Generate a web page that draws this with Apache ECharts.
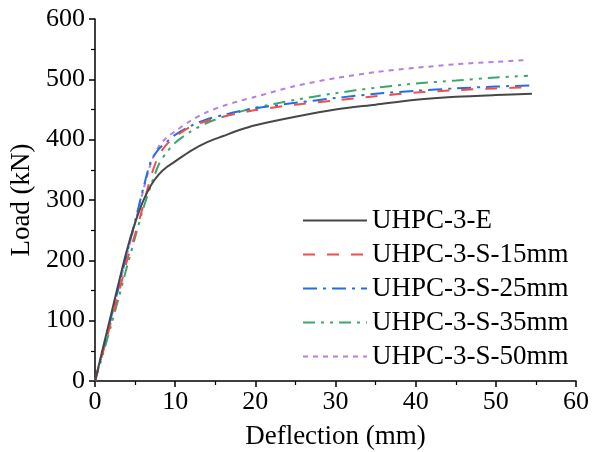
<!DOCTYPE html>
<html>
<head>
<meta charset="utf-8">
<script src="https://cdn.jsdelivr.net/npm/echarts@6/dist/echarts.min.js"></script>
<style>
  html, body { margin: 0; padding: 0; background: #fff; }
  #main { width: 593px; height: 452px; }
</style>
</head>
<body>
<div id="main"></div>
<script>
// 系列名称
const seriesNames = ['UHPC-3-E', 'UHPC-3-S-15mm', 'UHPC-3-S-25mm', 'UHPC-3-S-35mm', 'UHPC-3-S-50mm'];

// 挠度 (mm) / 荷载 (kN)
const deflE   = [0, 1, 2, 3, 4, 5, 6, 7, 8, 9, 10, 12, 14, 16, 18, 20, 25, 30, 35, 40, 45, 50, 54.5];
const loadE   = [0, 55, 110, 165, 218, 262, 298, 325, 343, 355, 364, 382, 396, 406, 416, 424, 438, 450, 458, 466, 471, 474, 476];

const defl15  = [0, 1, 2, 3, 4, 5, 6, 7, 8, 9, 10, 12, 14, 16, 18, 20, 25, 30, 35, 40, 45, 50, 54.5];
const load15  = [0, 48, 98, 148, 200, 243, 290, 340, 375, 393, 405, 422, 431, 438, 444, 449, 458, 465, 472, 478, 482, 485, 487];

const defl25  = [0, 1, 2, 3, 4, 5, 6, 7, 8, 9, 10, 12, 14, 16, 18, 20, 25, 30, 35, 40, 45, 50, 54.5];
const load25  = [0, 52, 105, 158, 212, 265, 318, 365, 385, 397, 408, 423, 434, 441, 447, 452, 461, 469, 476, 481, 485, 488, 490];

const defl35  = [0, 1, 2, 3, 4, 5, 6, 7, 8, 9, 10, 12, 14, 16, 18, 20, 25, 30, 35, 40, 45, 50, 54];
const load35  = [0, 45, 92, 140, 190, 238, 285, 325, 360, 380, 395, 414, 428, 438, 446, 453, 466, 477, 486, 493, 498, 503, 506];

const defl50  = [0, 1, 2, 3, 4, 5, 6, 7, 8, 9, 10, 12, 14, 16, 18, 20, 25, 30, 35, 40, 45, 50, 54];
const load50  = [0, 52, 105, 158, 210, 262, 315, 362, 390, 404, 414, 432, 446, 456, 464, 471, 489, 502, 512, 519, 525, 529, 532];

const deflections = [deflE, defl15, defl25, defl35, defl50];
const loads = [loadE, load15, load25, load35, load50];

const colors = ['#474747', '#f44b4b', '#2070e0', '#3aa86a', '#b57ee6'];
const dashes = ['solid', [12, 12], [14, 6, 3, 6], [12, 6, 3, 6, 3, 6], [5, 5]];

const font = '"Liberation Serif", "Times New Roman", serif';

const chart = echarts.init(document.getElementById('main'));

const series = seriesNames.map((name, i) => ({
  name: name,
  type: 'line',
  data: deflections[i].map((d, k) => [d, loads[i][k]]),
  smooth: 0.3,
  showSymbol: false,
  symbol: 'none',
  lineStyle: { color: colors[i], width: 2, type: dashes[i] },
  itemStyle: { color: colors[i] },
  z: 5 - i
}));

chart.setOption({
  animation: false,
  backgroundColor: '#fff',
  grid: { left: 95, right: 17, top: 19, bottom: 71, outerBoundsMode: 'none', containLabel: false },
  legend: {
    orient: 'vertical',
    left: 297,
    top: 202,
    itemWidth: 64,
    itemHeight: 20,
    itemGap: 7,
    itemStyle: { color: 'transparent', borderColor: 'transparent', borderWidth: 0 },
    textStyle: { fontFamily: font, fontSize: 27, color: '#000' },
    data: seriesNames
  },
  xAxis: {
    type: 'value',
    min: 0, max: 60, interval: 10,
    name: 'Deflection (mm)',
    nameLocation: 'middle',
    nameGap: 42,
    nameTextStyle: { fontFamily: font, fontSize: 27, color: '#000' },
    axisLine: { show: true, onZero: false, lineStyle: { color: '#000', width: 1.5 } },
    axisTick: { show: true, inside: false, length: 6, lineStyle: { color: '#000', width: 1.5 } },
    minorTick: { show: true, splitNumber: 2, length: 4, lineStyle: { color: '#000', width: 1.2 } },
    axisLabel: { fontFamily: font, fontSize: 26, color: '#000', margin: 8 },
    splitLine: { show: false }
  },
  yAxis: {
    type: 'value',
    min: 0, max: 600, interval: 100,
    name: 'Load (kN)',
    nameLocation: 'middle',
    nameGap: 57,
    nameTextStyle: { fontFamily: font, fontSize: 27, color: '#000' },
    axisLine: { show: true, onZero: false, lineStyle: { color: '#000', width: 1.5 } },
    axisTick: { show: true, inside: false, length: 6, lineStyle: { color: '#000', width: 1.5 } },
    minorTick: { show: true, splitNumber: 2, length: 4, lineStyle: { color: '#000', width: 1.2 } },
    axisLabel: { fontFamily: font, fontSize: 26, color: '#000', margin: 10 },
    splitLine: { show: false }
  },
  series: series
});
</script>
</body>
</html>
